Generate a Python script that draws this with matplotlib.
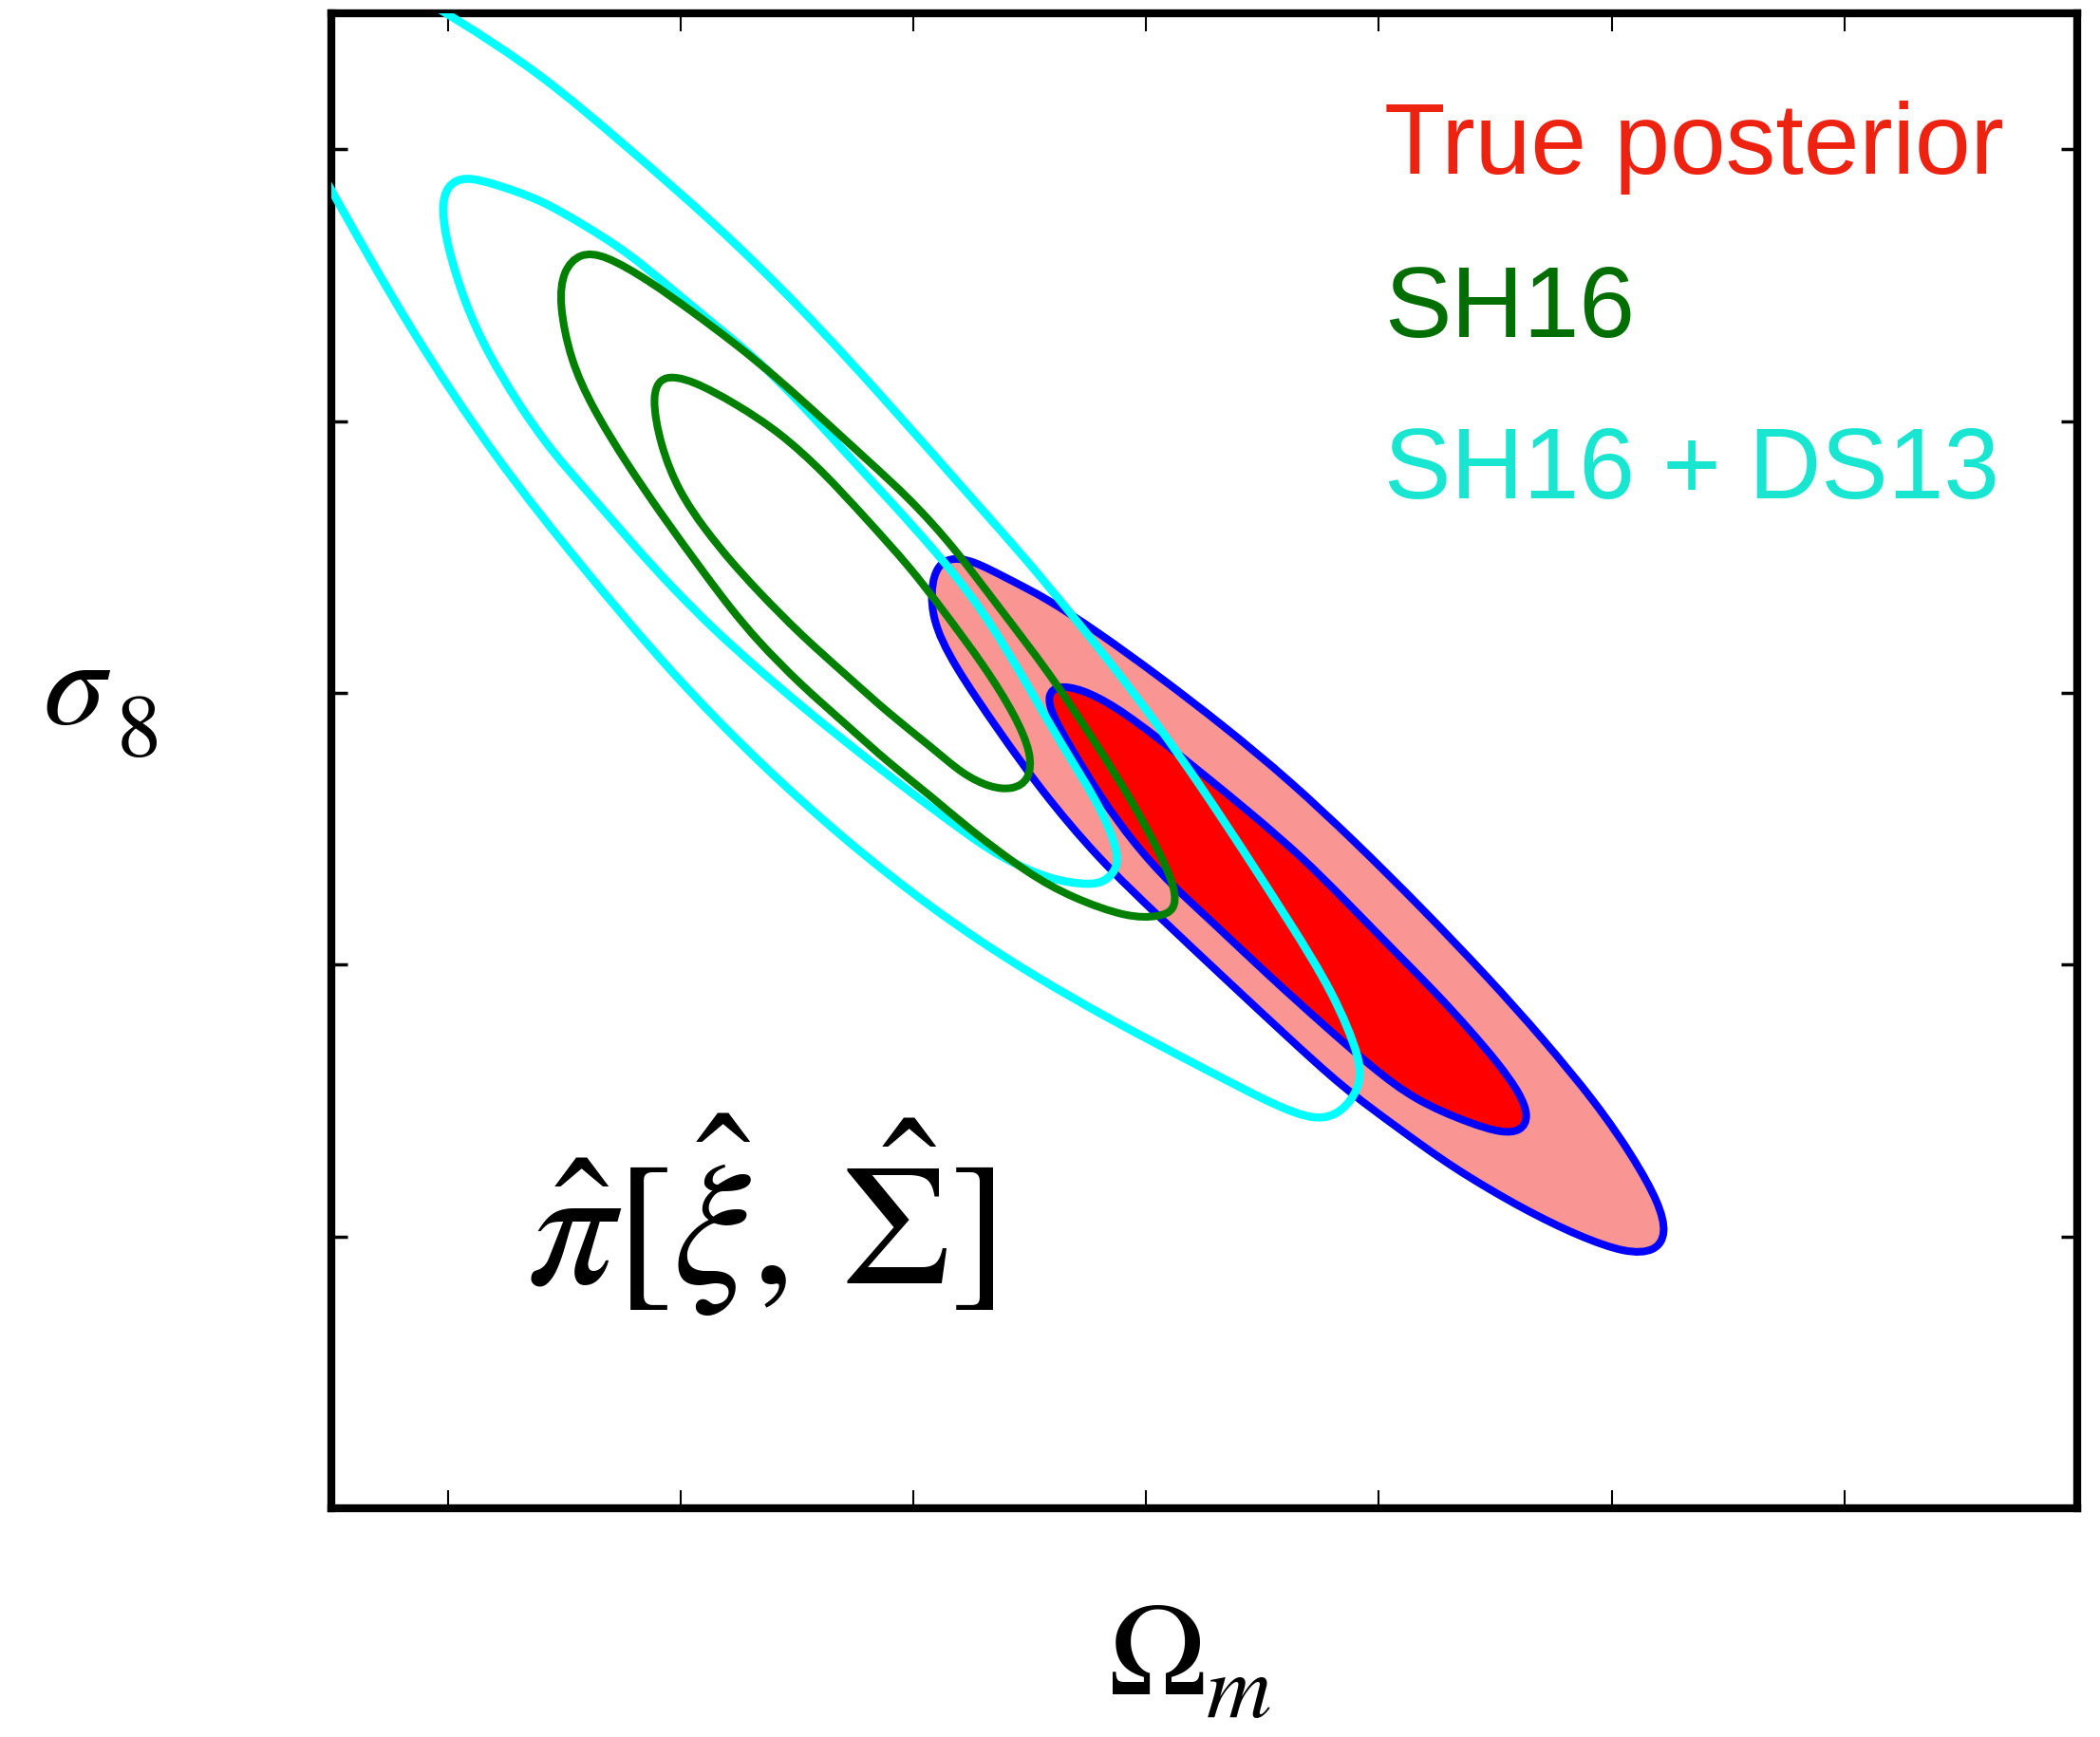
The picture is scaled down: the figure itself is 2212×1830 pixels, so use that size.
import numpy as np
import matplotlib
matplotlib.use("Agg")
import matplotlib.pyplot as plt
from matplotlib.path import Path
from matplotlib.patches import PathPatch

plt.rcParams['mathtext.fontset'] = 'stix'
plt.rcParams['font.family'] = ['Liberation Sans', 'DejaVu Sans']

# contour outlines (Omega_m, sigma_8)
# true posterior, 68% and 95% regions
true_1sig_om = [0.2788, 0.2810, 0.2861, 0.2933, 0.3027, 0.3120, 0.3229, 0.3337, 0.3422, 0.3539,
                0.3624, 0.3696, 0.3757, 0.3804, 0.3822, 0.3806, 0.3765, 0.3696, 0.3578, 0.3484,
                0.3388, 0.3263, 0.3143, 0.3049, 0.2973, 0.2902, 0.2841, 0.2796]
true_1sig_s8 = [0.7997, 0.8014, 0.8007, 0.7976, 0.7916, 0.7852, 0.7776, 0.7696, 0.7623, 0.7520,
                0.7447, 0.7379, 0.7318, 0.7262, 0.7220, 0.7194, 0.7190, 0.7208, 0.7250, 0.7312,
                0.7384, 0.7480, 0.7578, 0.7651, 0.7724, 0.7808, 0.7895, 0.7962]
true_2sig_om = [0.2541, 0.2576, 0.2627, 0.2700, 0.2784, 0.2896, 0.3027, 0.3167, 0.3308, 0.3449,
                0.3590, 0.3735, 0.3851, 0.3969, 0.4047, 0.4102, 0.4118, 0.4094, 0.4031, 0.3931,
                0.3812, 0.3657, 0.3539, 0.3422, 0.3304, 0.3167, 0.3027, 0.2896, 0.2773, 0.2682,
                0.2588, 0.2535]
true_2sig_s8 = [0.8225, 0.8250, 0.8244, 0.8211, 0.8175, 0.8112, 0.8031, 0.7939, 0.7839, 0.7726,
                0.7606, 0.7476, 0.7365, 0.7243, 0.7145, 0.7061, 0.7005, 0.6972, 0.6969, 0.7000,
                0.7049, 0.7127, 0.7201, 0.7274, 0.7367, 0.7476, 0.7589, 0.7696, 0.7822, 0.7932,
                0.8049, 0.8140]

# SH16
sh16_1sig_om = [0.1959, 0.2024, 0.2118, 0.2212, 0.2306, 0.2400, 0.2494, 0.2559, 0.2653, 0.2718,
                0.2755, 0.2749, 0.2714, 0.2667, 0.2606, 0.2541, 0.2447, 0.2353, 0.2259, 0.2165,
                0.2106, 0.2053, 0.1996, 0.1957, 0.1937]
sh16_1sig_s8 = [0.8586, 0.8576, 0.8532, 0.8480, 0.8407, 0.8319, 0.8230, 0.8157, 0.8049, 0.7960,
                0.7887, 0.7839, 0.7822, 0.7825, 0.7850, 0.7899, 0.7962, 0.8035, 0.8106, 0.8188,
                0.8244, 0.8300, 0.8370, 0.8454, 0.8546]
sh16_2sig_om = [0.1747, 0.1784, 0.1837, 0.1931, 0.2024, 0.2118, 0.2212, 0.2306, 0.2400, 0.2494,
                0.2588, 0.2682, 0.2794, 0.2896, 0.2971, 0.3027, 0.3065, 0.3061, 0.3027, 0.2961,
                0.2841, 0.2747, 0.2616, 0.2541, 0.2447, 0.2353, 0.2259, 0.2165, 0.2106, 0.2049,
                0.1959, 0.1884, 0.1810, 0.1763, 0.1739]
sh16_2sig_s8 = [0.8777, 0.8810, 0.8806, 0.8759, 0.8702, 0.8642, 0.8576, 0.8503, 0.8429, 0.8356,
                0.8267, 0.8159, 0.8035, 0.7902, 0.7799, 0.7710, 0.7637, 0.7599, 0.7588, 0.7586,
                0.7623, 0.7667, 0.7752, 0.7808, 0.7871, 0.7944, 0.8014, 0.8096, 0.8157, 0.8222,
                0.8328, 0.8422, 0.8525, 0.8613, 0.8716]

# SH16 + DS13 (outer region leaves the frame at the top left)
combo_1sig_om = [0.1537, 0.1604, 0.1698, 0.1790, 0.1884, 0.1978, 0.2071, 0.2165, 0.2259, 0.2353,
                 0.2447, 0.2541, 0.2647, 0.2747, 0.2820, 0.2896, 0.2933, 0.2943, 0.2914, 0.2878,
                 0.2794, 0.2698, 0.2635, 0.2541, 0.2447, 0.2353, 0.2259, 0.2165, 0.2071, 0.1984,
                 0.1904, 0.1810, 0.1724, 0.1651, 0.1584, 0.1537, 0.1500, 0.1486, 0.1498]
combo_1sig_s8 = [0.8951, 0.8935, 0.8908, 0.8862, 0.8812, 0.8745, 0.8679, 0.8613, 0.8532, 0.8443,
                 0.8356, 0.8267, 0.8157, 0.8012, 0.7902, 0.7799, 0.7726, 0.7682, 0.7653, 0.7646,
                 0.7656, 0.7693, 0.7728, 0.7787, 0.7848, 0.7911, 0.7976, 0.8045, 0.8117, 0.8192,
                 0.8267, 0.8361, 0.8443, 0.8532, 0.8628, 0.8716, 0.8818, 0.8892, 0.8934]
combo_2sig_om = [0.1188, 0.1257, 0.1416, 0.1604, 0.1790, 0.1978, 0.2165, 0.2353, 0.2541, 0.2729,
                 0.2933, 0.3120, 0.3269, 0.3367, 0.3422, 0.3457, 0.3465, 0.3402, 0.3308, 0.3214,
                 0.3120, 0.3027, 0.2933, 0.2841, 0.2747, 0.2635, 0.2447, 0.2259, 0.2071, 0.1884,
                 0.1698, 0.1510, 0.1402]
combo_2sig_s8 = [0.9019, 0.8914, 0.8672, 0.8429, 0.8230, 0.8038, 0.7874, 0.7729, 0.7602, 0.7494,
                 0.7394, 0.7311, 0.7244, 0.7211, 0.7229, 0.7271, 0.7319, 0.7449, 0.7578, 0.7703,
                 0.7825, 0.7939, 0.8045, 0.8143, 0.8241, 0.8349, 0.8532, 0.8709, 0.8866, 0.9005,
                 0.9141, 0.9244, 0.9298]

x_ticks = [0.15, 0.20, 0.25, 0.30, 0.35, 0.40, 0.45]
y_ticks = [0.70, 0.75, 0.80, 0.85, 0.90]
labels = ["True posterior", "SH16", "SH16 + DS13"]
label_colors = ["#ee2211", "#006e00", "#18e6d0"]


def smooth_path(xs, ys, closed=True):
    # outline points used as control points of a cubic b-spline
    pts = np.column_stack([xs, ys])
    if closed:
        p = np.vstack([pts[-1], pts, pts[0], pts[1]])
    else:
        p = np.vstack([pts[0], pts[0], pts, pts[-1], pts[-1]])
    verts, codes = [], []
    for i in range(1, len(p) - 2):
        b0 = (p[i - 1] + 4 * p[i] + p[i + 1]) / 6
        b1 = (2 * p[i] + p[i + 1]) / 3
        b2 = (p[i] + 2 * p[i + 1]) / 3
        b3 = (p[i] + 4 * p[i + 1] + p[i + 2]) / 6
        if not verts:
            verts.append(b0)
            codes.append(Path.MOVETO)
        verts += [b1, b2, b3]
        codes += [Path.CURVE4] * 3
    if closed:
        verts.append(verts[0])
        codes.append(Path.CLOSEPOLY)
    return Path(verts, codes)


fig = plt.figure(figsize=(22.12, 18.31), dpi=100)
ax = fig.add_axes([0.1578, 0.1316, 0.8314, 0.8602])

# true posterior: filled regions with blue outlines
p2 = smooth_path(true_2sig_om, true_2sig_s8)
p1 = smooth_path(true_1sig_om, true_1sig_s8)
ax.add_patch(PathPatch(p2, facecolor='#f99694', edgecolor='#f98080', lw=2, zorder=1))
ax.add_patch(PathPatch(p1, facecolor='#ff0000', edgecolor='none', zorder=2))
ax.add_patch(PathPatch(p2, fill=False, edgecolor='#0000ff', lw=5.8, zorder=3))
ax.add_patch(PathPatch(p1, fill=False, edgecolor='#0000ff', lw=5.8, zorder=3))

# SH16 + DS13
ax.add_patch(PathPatch(smooth_path(combo_2sig_om, combo_2sig_s8, closed=False),
                       fill=False, edgecolor='#00ffff', lw=6.2, zorder=4))
ax.add_patch(PathPatch(smooth_path(combo_1sig_om, combo_1sig_s8),
                       fill=False, edgecolor='#00ffff', lw=6.2, zorder=4))

# SH16
ax.add_patch(PathPatch(smooth_path(sh16_2sig_om, sh16_2sig_s8),
                       fill=False, edgecolor='#008000', lw=5.8, zorder=5))
ax.add_patch(PathPatch(smooth_path(sh16_1sig_om, sh16_1sig_s8),
                       fill=False, edgecolor='#008000', lw=5.8, zorder=5))

ax.set_xlim(0.125, 0.50)
ax.set_ylim(0.65, 0.925)
ax.set_xticks(x_ticks)
ax.set_yticks(y_ticks)
ax.tick_params(axis='x', direction='in', top=True, bottom=True, length=14, width=1.5,
               labelbottom=False, labeltop=False)
ax.tick_params(axis='y', direction='in', left=True, right=True, length=12, width=2.5,
               labelleft=False, labelright=False)
for val, tick in zip(y_ticks, ax.yaxis.get_major_ticks()):
    c = '#a8a8a8' if round(val * 100) % 10 == 0 else 'black'
    tick.tick1line.set_color(c)
    tick.tick2line.set_color(c)
for sp in ax.spines.values():
    sp.set_linewidth(6)
    sp.set_color('black')

# legend-like labels
label_y = [0.8933, 0.7841, 0.6762]
for txt, col, yy in zip(labels, label_colors, label_y):
    ax.text(0.603, yy, txt, color=col, fontsize=76, transform=ax.transAxes,
            ha='left', va='baseline', zorder=6)

ax.text(0.112, 0.1505, r'$\hat{\pi}[\hat{\xi},\,\hat{\Sigma}]$', fontsize=132,
        transform=ax.transAxes, ha='left', va='baseline', zorder=6)

# axis labels, subscripts placed as in the original
fig.text(0.0203, 0.5833, r'$\sigma$', fontsize=95, ha='left', va='baseline')
fig.text(0.0552, 0.5647, r'$8$', fontsize=68, ha='left', va='baseline')
fig.text(0.5276, 0.0250, r'$\Omega$', fontsize=100, ha='left', va='baseline')
fig.text(0.5740, 0.0120, r'$m$', fontsize=68, ha='left', va='baseline')

fig.savefig('out.png', dpi=100, facecolor='white')
